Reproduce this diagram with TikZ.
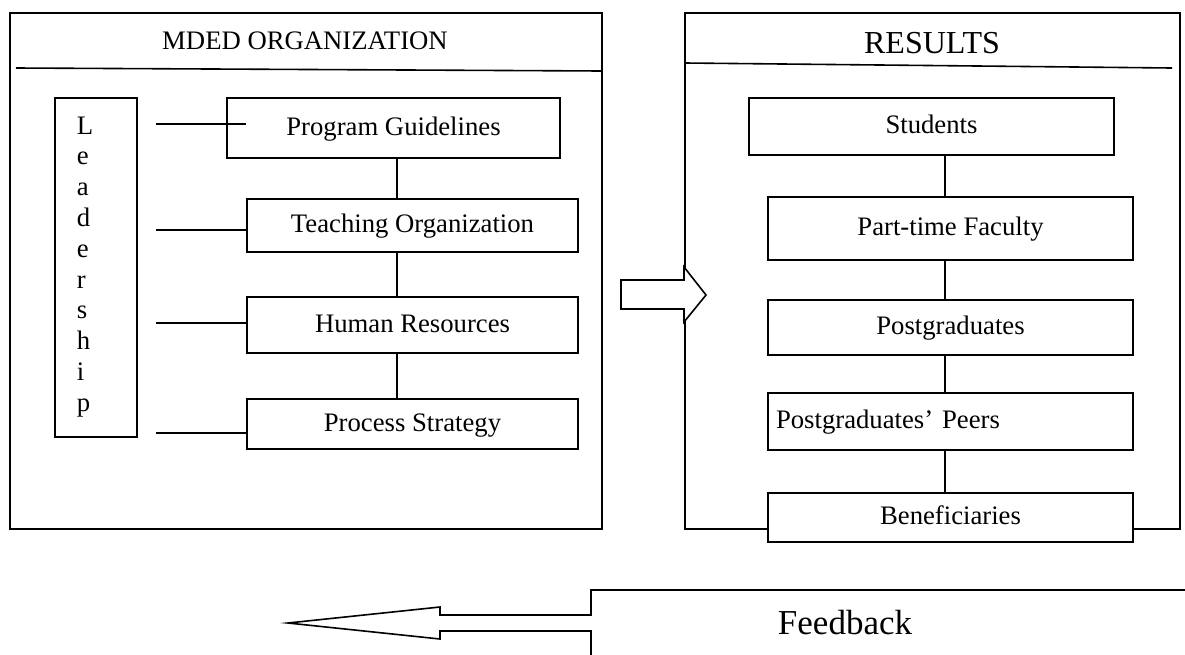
\documentclass[tikz,border=0pt]{standalone}
\usepackage{fontspec}
\setmainfont{Liberation Serif}
\begin{document}
\begin{tikzpicture}[x=1pt,y=-1pt,line width=1.6pt,line join=miter,font=\fontsize{26.7}{32}\selectfont,
	box/.style={draw,fill=white,inner sep=0pt,text height=19pt,text depth=5pt},
	big/.style={font=\fontsize{32}{38}\selectfont}]
	\useasboundingbox (0,0) rectangle (1185,654);
	
	\draw (10,13) rectangle (602,529) (16,68) -- (602,71);
	\draw (685,13) rectangle (1180,529) (685,63) -- (1172,68);
	\node (org) at (305,41) {MDED ORGANIZATION};
	\node[big] (res) at (932,43) {RESULTS};
	
	\node[box,minimum width=82pt,minimum height=339pt] (lead) at (96,267.5) {};
	\foreach \c [count=\i from 0] in {L,e,a,d,e,r,s,h,i,p}
		\node[anchor=base west,inner sep=0pt] (lt\i) at (76,{134+30.8*\i}) {\c};
	
	\node[box,minimum width=333pt,minimum height=60pt] (pg) at (393.5,128) {Program Guidelines};
	\node[box,minimum width=331pt,minimum height=53pt] (to) at (412.5,225.5) {Teaching Organization};
	\node[box,minimum width=331pt,minimum height=56pt] (hr) at (412.5,325) {Human Resources};
	\node[box,minimum width=331pt,minimum height=50pt] (ps) at (412.5,424) {Process Strategy};
	
	\node[box,minimum width=365pt,minimum height=57pt] (st) at (931.5,126.5) {Students};
	\node[box,minimum width=365pt,minimum height=63pt] (pf) at (950.5,228.5) {Part-time Faculty};
	\node[box,minimum width=365pt,minimum height=55pt] (pgr) at (950.5,327.5) {Postgraduates};
	\node[box,minimum height=57pt,text width=349pt,inner xsep=8pt,align=left] (pp) at (950.5,421.5) {Postgraduates’ Peers};
	\node[box,minimum width=365pt,minimum height=49pt] (bf) at (950.5,517.5) {Beneficiaries};
	
	\coordinate (lx) at (156,0);
	\coordinate (ls) at (397,0);
	\coordinate (rs) at (945,0);
	\foreach \b/\dy/\dx in {pg/4/20,to/-4.5/0,hr/2/0,ps/-9/0}
		\draw ([yshift=\dy pt]lx |- \b.west) -- ([xshift=\dx pt,yshift=\dy pt]\b.west);
	\foreach \a/\b in {pg/to,to/hr,hr/ps}
		\draw (ls |- \a.south) -- (ls |- \b.north);
	\foreach \a/\b in {st/pf,pf/pgr,pgr/pp,pp/bf}
		\draw (rs |- \a.south) -- (rs |- \b.north);
	
	\draw[fill=white] (621,280) -- (684,280) -- (684,267) -- (706,295) -- (684,322) -- (684,309) -- (621,309) -- cycle;
	\draw (1185,590) -- (591,590) -- (591,615) -- (440,615) -- (440,607) -- (288,623) -- (440,639) -- (440,631) -- (591,631) -- (591,655);
	\node[font=\fontsize{35}{42}\selectfont] (fb) at (845,623) {Feedback};
\end{tikzpicture}
\end{document}
